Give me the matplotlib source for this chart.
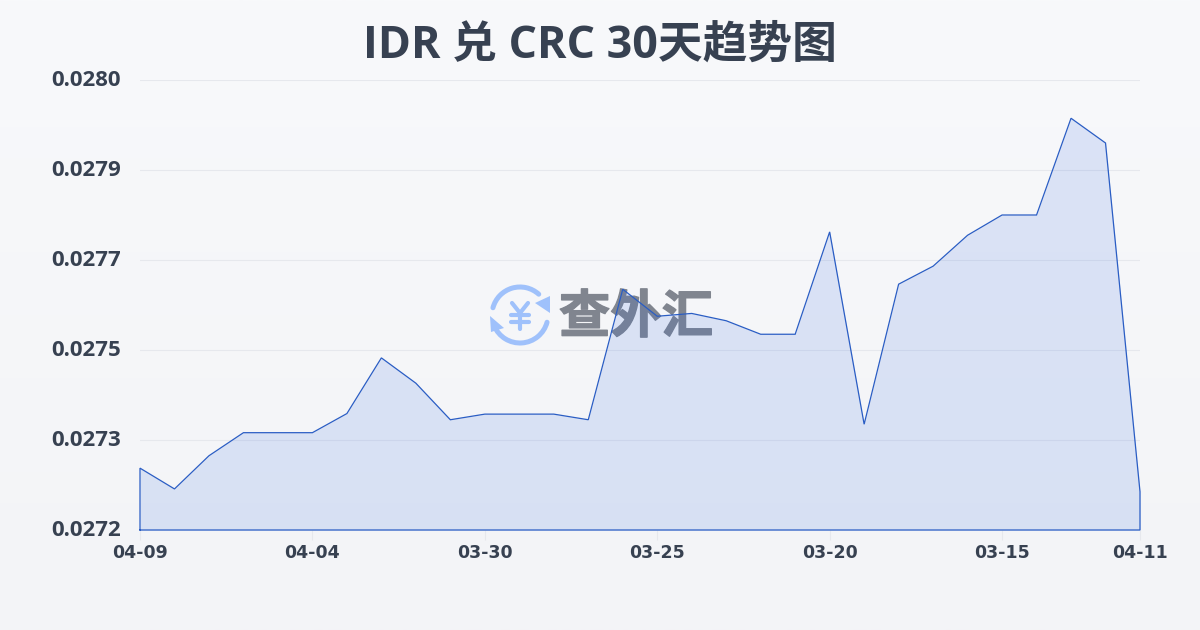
import numpy as np
import matplotlib
matplotlib.use('Agg')
from matplotlib import pyplot as plt
from matplotlib import patheffects
from matplotlib.patches import Arc, Polygon
from matplotlib.transforms import ScaledTranslation

plt.rcParams['font.family'] = ['Open Sans', 'Noto Sans CJK SC']

title = 'IDR 兑 CRC 30天趋势图'
watermark = '查外汇'
rates = [0.027310, 0.027273, 0.027332, 0.027373, 0.027373, 0.027373, 0.027407, 0.027506,
         0.027461, 0.027396, 0.027406, 0.027406, 0.027406, 0.027396, 0.027628, 0.027580,
         0.027585, 0.027572, 0.027548, 0.027548, 0.027730, 0.027388, 0.027637, 0.027669,
         0.027724, 0.027760, 0.027760, 0.027932, 0.027888, 0.027268]
x_ticks = [0, 5, 10, 15, 20, 25, 29]
x_labels = ['04-09', '04-04', '03-30', '03-25', '03-20', '03-15', '04-11']
y_min = 0.0272
y_max = 0.0280
y_labels = ['0.0272', '0.0273', '0.0275', '0.0277', '0.0279', '0.0280']

INK = '#374151'
LINE = '#2a5dc4'
GRID = '#e6e8ed'
ICON = '#9fc1fb'

fig = plt.figure(figsize=(12, 6.3), dpi=100)

# background + watermark, in pixel coords
bg = fig.add_axes([0, 0, 1, 1], zorder=0)
grad = np.linspace(0, 1, 256).reshape(-1, 1, 1)
top = np.array([248, 249, 251]) / 255
bottom = np.array([243, 244, 247]) / 255
bg.imshow(top + (bottom - top) * grad, extent=(0, 1200, 630, 0), aspect='auto')
bg.set_xlim(0, 1200)
bg.set_ylim(630, 0)
bg.axis('off')

bg.add_patch(Arc((520, 315), 56, 56, theta1=195, theta2=312, color=ICON, lw=3.6, capstyle='round'))
bg.add_patch(Arc((520, 315), 56, 56, theta1=15, theta2=157, color=ICON, lw=3.6, capstyle='round'))
bg.add_patch(Polygon([[550, 296], [550, 313], [535, 303]], closed=True, color=ICON, lw=0))
bg.add_patch(Polygon([[490, 316], [504, 328], [491, 332]], closed=True, color=ICON, lw=0))
bg.plot([512, 520, 528], [303, 313, 303], color=ICON, lw=3, solid_capstyle='round')
bg.plot([511, 529], [315, 315], color=ICON, lw=3, solid_capstyle='round')
bg.plot([511, 529], [322, 322], color=ICON, lw=3, solid_capstyle='round')
bg.plot([520, 520], [313, 329], color=ICON, lw=3, solid_capstyle='round')
wm = bg.text(636, 317, watermark, family=['Noto Sans CJK SC'], fontweight='bold', fontsize=37,
             color='#80858f', ha='center', va='center')
wm.set_path_effects([patheffects.withStroke(linewidth=1, foreground='#80858f')])

ax = fig.add_axes([140 / 1200, 100 / 630, 1000 / 1200, 450 / 630], zorder=1)
ax.patch.set_alpha(0)
x = np.arange(len(rates))
ax.fill_between(x, rates, y_min, color='#3068e0', alpha=0.14, lw=0)
ax.plot(np.r_[x[0], x, x[-1], x[0]], np.r_[y_min, rates, y_min, y_min], color=LINE, lw=0.9,
        solid_joinstyle='miter', clip_on=False)

ax.set_xlim(0, len(rates) - 1)
ax.set_ylim(y_min, y_max)
ax.set_yticks(np.linspace(y_min, y_max, len(y_labels)))
ax.set_yticklabels(y_labels, fontsize=16, fontweight='bold', color=INK)
ax.set_xticks(x_ticks)
ax.set_xticklabels(x_labels, fontsize=12.5, fontweight='bold', color=INK,
                   family=['DejaVu Sans'])
ax.tick_params(axis='y', length=0, pad=14)
ax.tick_params(axis='x', length=7, width=0.8, color=GRID, pad=3)
ax.grid(axis='y', color=GRID, lw=0.8)
ax.set_axisbelow(True)
for s in ax.spines.values():
    s.set_visible(False)

# y labels sit a touch above their gridlines
nudge = ScaledTranslation(0, 2 / 100, fig.dpi_scale_trans)
for lab in ax.get_yticklabels():
    lab.set_transform(lab.get_transform() + nudge)

fig.text(0.5, 1 - 46 / 630, title, fontsize=32.2, fontweight='bold', color=INK, ha='center', va='center',
         family=['Open Sans', 'Noto Sans CJK SC'])

plt.savefig('out.png', dpi=100)
